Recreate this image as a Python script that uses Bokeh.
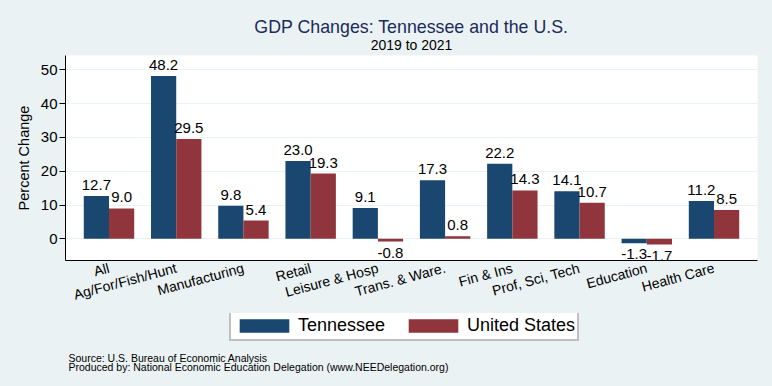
import math
from bokeh.plotting import figure
from bokeh.layouts import column
from bokeh.models import (ColumnDataSource, FactorRange, Range1d, FixedTicker, LabelSet,
                          Label, Legend, LegendItem, Title)
from bokeh.transform import dodge
from bokeh.embed import file_html
from bokeh.resources import INLINE
from bokeh.core.properties import value

# ---------------- data ----------------
categories = ["All", "Ag/For/Fish/Hunt", "Manufacturing", "Retail", "Leisure & Hosp",
              "Trans. & Ware.", "Fin & Ins", "Prof, Sci, Tech", "Education", "Health Care"]
tennessee = [12.7, 48.2, 9.8, 23.0, 9.1, 17.3, 22.2, 14.1, -1.3, 11.2]
united_states = [9.0, 29.5, 5.4, 19.3, -0.8, 0.8, 14.3, 10.7, -1.7, 8.5]
series_names = ["Tennessee", "United States"]
y_ticks = [0, 10, 20, 30, 40, 50]
title_text = "GDP Changes: Tennessee and the U.S."
subtitle_text = "2019 to 2021"
y_label = "Percent Change"
note_lines = ["Source: U.S. Bureau of Economic Analysis",
              "Produced by: National Economic Education Delegation (www.NEEDelegation.org)"]

# ---------------- style ----------------
FONT = "Liberation Sans"
BG = "#EAF2F3"
TN_COLOR = "#1a476f"
US_COLOR = "#90353b"
TITLE_COLOR = "#1c2b5a"
BAR_W = 0.375
OFF = 0.1875

# ---------------- main chart ----------------
p = figure(x_range=FactorRange(*categories, range_padding=0.147, range_padding_units="absolute"),
           y_range=Range1d(-6.41, 54.23),
           width=772, height=313, output_backend="svg", toolbar_location=None,
           min_border_left=65, min_border_right=15, min_border_top=55, min_border_bottom=50,
           background_fill_color="white", border_fill_color=BG, outline_line_color=None,
           title=None)

src = ColumnDataSource(dict(cat=categories, tn=tennessee, us=united_states))
r_tn = p.vbar(x=dodge("cat", -OFF, range=p.x_range), top="tn", bottom=0, width=BAR_W,
              source=src, fill_color=TN_COLOR, line_color=None)
r_us = p.vbar(x=dodge("cat", OFF, range=p.x_range), top="us", bottom=0, width=BAR_W,
              source=src, fill_color=US_COLOR, line_color=None)

# value labels: above positive bars, below negative bars
for vals, off in ((tennessee, -OFF), (united_states, OFF)):
    for positive in (True, False):
        cats = [c for c, v in zip(categories, vals) if (v >= 0) == positive]
        ys = [v for v in vals if (v >= 0) == positive]
        if not cats:
            continue
        s = ColumnDataSource(dict(cat=cats, y=ys, t=["%.1f" % v for v in ys]))
        ls = LabelSet(x=dodge("cat", off, range=p.x_range), y="y", text="t", source=s,
                      text_align="center", text_baseline="alphabetic",
                      y_offset=6 if positive else -16,
                      text_font=value(FONT), text_font_size="15px", text_color="black")
        p.add_layout(ls)

# axes
p.yaxis.ticker = FixedTicker(ticks=y_ticks)
p.yaxis.axis_label = y_label
p.yaxis.axis_label_text_font = FONT
p.yaxis.axis_label_text_font_size = "14.5px"
p.yaxis.axis_label_text_font_style = "normal"
p.yaxis.axis_label_text_color = "black"
p.yaxis.axis_label_standoff = 6
p.yaxis.major_label_text_font = FONT
p.yaxis.major_label_text_font_size = "15px"
p.yaxis.major_label_text_color = "black"
p.yaxis.major_tick_out = 6
p.yaxis.major_tick_in = 0
p.yaxis.major_label_standoff = 2
p.yaxis.minor_tick_line_color = None
p.yaxis.axis_line_color = "black"
p.yaxis.major_tick_line_color = "black"

p.xaxis.major_label_orientation = math.radians(15)
p.xaxis.major_label_text_font = FONT
p.xaxis.major_label_text_font_size = "14px"
p.xaxis.major_label_text_color = "black"
p.xaxis.major_tick_line_color = None
p.xaxis.major_tick_out = 0
p.xaxis.major_label_standoff = 7
p.xaxis.axis_line_color = "black"

p.xgrid.grid_line_color = None
p.ygrid.grid_line_color = BG
p.ygrid.grid_line_width = 1

# titles (subtitle first so it sits nearest the frame)
p.add_layout(Title(text=subtitle_text, align="center", text_font=FONT, text_font_size="14px",
                   text_font_style="normal", text_color="black", standoff=5), "above")
p.add_layout(Title(text=title_text, align="center", text_font=FONT, text_font_size="17.8px",
                   text_font_style="normal", text_color=TITLE_COLOR, standoff=-8), "above")

# ---------------- legend and source notes strip ----------------
# shares the category axis; its y window lies above all values, so its bars stay hidden
foot = figure(width=772, height=73, output_backend="svg", toolbar_location=None,
              x_range=p.x_range, y_range=Range1d(100, 101),
              x_axis_type=None, y_axis_type=None,
              min_border_left=0, min_border_right=0, min_border_top=0, min_border_bottom=0,
              background_fill_color=BG, border_fill_color=BG, outline_line_color=None,
              title=None)
foot.xgrid.grid_line_color = None
foot.ygrid.grid_line_color = None
k_tn = foot.vbar(x=dodge("cat", -OFF, range=p.x_range), top="tn", bottom=0, width=BAR_W,
                 source=src, fill_color=TN_COLOR, line_color=None)
k_us = foot.vbar(x=dodge("cat", OFF, range=p.x_range), top="us", bottom=0, width=BAR_W,
                 source=src, fill_color=US_COLOR, line_color=None)

legend = Legend(items=[LegendItem(label=series_names[0], renderers=[k_tn]),
                       LegendItem(label=series_names[1], renderers=[k_us])],
                orientation="horizontal", location=(164, 45),
                glyph_width=62, glyph_height=17, label_standoff=3, label_width=104,
                label_height=23, spacing=0, padding=2, margin=0,
                label_text_font=FONT, label_text_font_size="18px", label_text_color="black",
                border_line_color="#7f7f7f", border_line_width=2,
                background_fill_color="white", background_fill_alpha=1)
foot.add_layout(legend, "center")

for i, line in enumerate(note_lines):
    foot.add_layout(Label(x=3, y=29 - 9.5 * i, x_units="screen", y_units="screen", text=line,
                          text_font=FONT, text_font_size="10.5px", text_color="black",
                          text_baseline="alphabetic", text_align="left"))

layout = column(p, foot, spacing=0)

html = file_html(layout, INLINE)
html = html.replace("</head>",
                    "<style>html, body { margin: 0; padding: 0; background-color: #EAF2F3; }</style>\n</head>", 1)
open("out.html", "w").write(html)
